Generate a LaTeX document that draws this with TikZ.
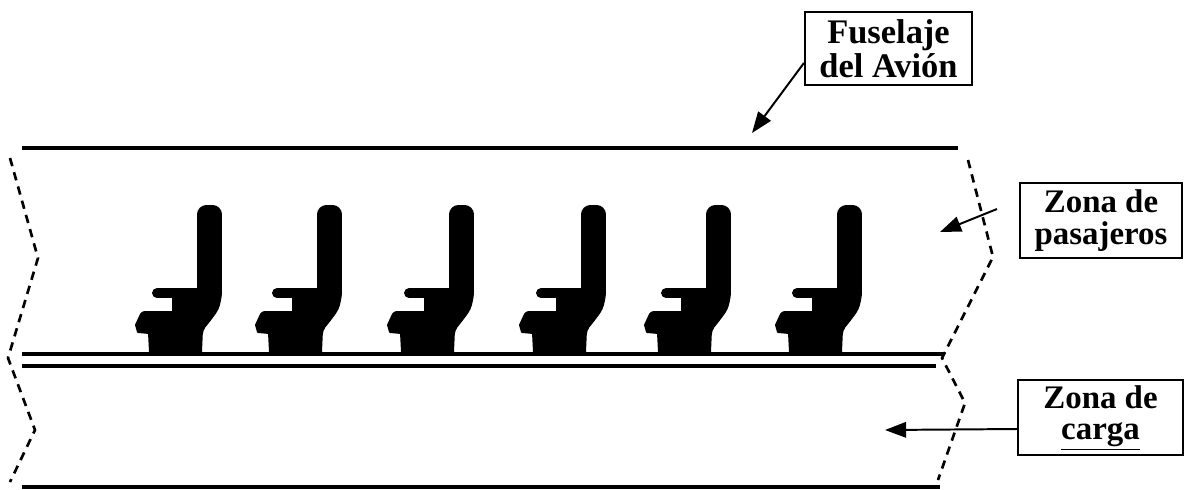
\documentclass[tikz,border=0pt]{standalone}
\usepackage{fontspec}
\setmainfont{Liberation Serif}
\usetikzlibrary{arrows.meta,calc}

\tikzset{
  hull/.style={line width=2.8pt},
  cutline/.style={line width=1.9pt, dash pattern=on 6pt off 4.5pt},
  label box/.style={draw, line width=1.5pt, inner sep=0pt, align=center, font=\bfseries},
  pointer/.style={line width=1.4pt, -{Triangle[length=15pt,width=11pt]}},
  seat/.pic={
    \filldraw[line width=1.4pt, line join=round] (0,-63) [rounded corners=6pt] -- (0,-146) -- (23,-146)
      [rounded corners=3pt] -- (23,-56) -- (20,-43) -- (12,-32) -- (4,-22)
      [sharp corners] -- (3,0) -- (-48,0) -- (-49,-19) -- (-60,-20) -- (-62,-27)
      [rounded corners=2pt] -- (-56,-40) [sharp corners] -- (-25,-40) -- (-25,-55)
      [rounded corners=3pt] -- (-45,-55) -- (-45,-63) [sharp corners] -- cycle;
  }
}

\begin{document}
\begin{tikzpicture}[x=0.025cm, y=-0.025cm]
\useasboundingbox (0,0) rectangle (1184,489);

% fuselage skin, cabin floor and hold floor
\draw[hull] (22,148) -- (958,148);
\draw[hull] (22,354) -- (944,354);
\draw[hull] (22,366) -- (936,366);
\draw[hull] (22,487) -- (940,487);

% break lines at both ends of the section
\draw[cutline] (10,158) -- (38,258) -- (8,358) -- (35,430) -- (10,482);
\draw[cutline] (968,160) -- (993,257) -- (942,358) -- (965,403) -- (938,480);

% passenger seats
\foreach \sx in {198,318,450,582,707,838}
  \pic at (\sx,352) {seat};

% labels
\node[label box, minimum width=4.175cm, minimum height=1.825cm,
      font=\bfseries\fontsize{24.5}{24}\selectfont] (fus) at (888.5,48.5)
      {Fuselaje\\del Avión};
\node[label box, minimum width=4.05cm, minimum height=1.875cm,
      font=\bfseries\fontsize{23.4}{22.5}\selectfont] (pas) at (1101,220.5)
      {Zona de\\pasajeros};
\node[label box, minimum width=4.125cm, minimum height=1.875cm,
      font=\bfseries\fontsize{23.4}{22.5}\selectfont] (car) at (1100.5,417.5)
      {Zona de\\\underline{carga}};

% leader arrows
\coordinate (pastail) at (997,209);
\coordinate (fustip) at (752,133);
\coordinate (pastip) at (940,232);
\coordinate (cartip) at (885,430);
\draw[pointer] ($(fus.west)+(0,14.5)$) -- (fustip);
\draw[pointer] (pastail) -- (pastip);
\draw[pointer] ($(car.west)+(0,11.5)$) -- (cartip);
\end{tikzpicture}
\end{document}
